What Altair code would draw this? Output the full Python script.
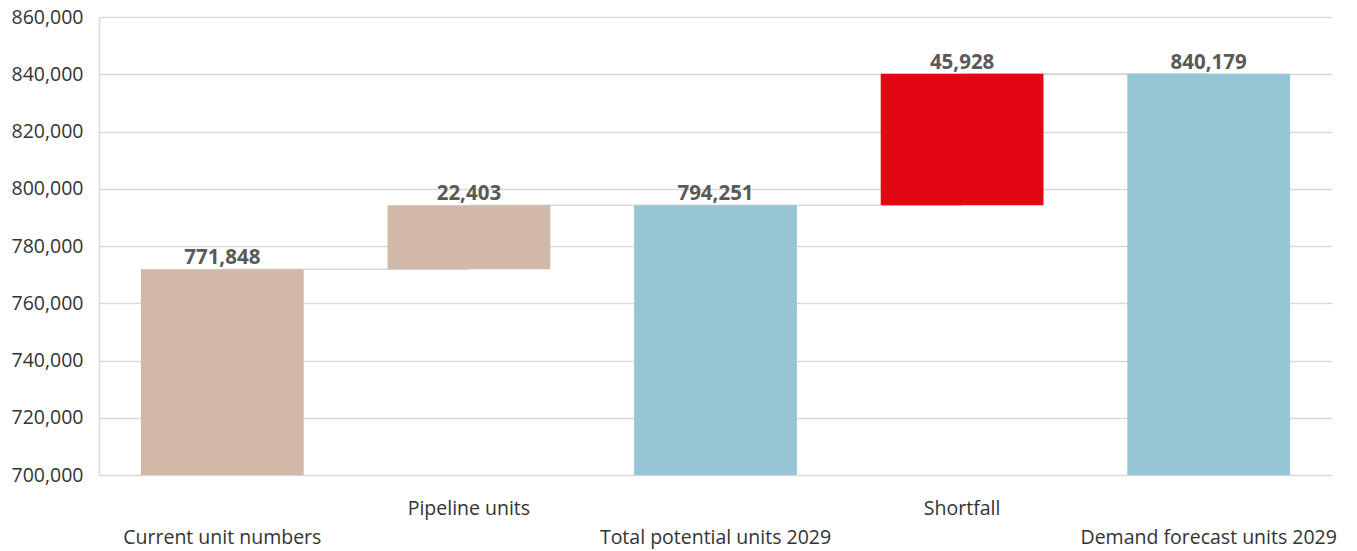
import altair as alt
import pandas as pd

categories = ["Current unit numbers", "Pipeline units", "Total potential units 2029",
              "Shortfall", "Demand forecast units 2029"]
values = [771848, 22403, 794251, 45928, 840179]
kinds = ["total", "delta", "total", "delta", "total"]
kind_colors = ["#d2b8a8", "#d2b8a8", "#96c5d5", "#e30613", "#96c5d5"]
y_ticks = [700000, 720000, 740000, 760000, 780000, 800000, 820000, 840000, 860000]

starts, ends = [], []
running = 0
for v, k in zip(values, kinds):
    if k == "total":
        starts.append(0)
        ends.append(v)
        running = v
    else:
        starts.append(running)
        running += v
        ends.append(running)

df = pd.DataFrame({
    "cat": categories,
    "start": starts,
    "end": ends,
    "value": values,
    "label": [f"{v:,}" for v in values],
    "color": kind_colors,
})

conn = pd.DataFrame({
    "cat": categories[:-1],
    "cat2": categories[1:],
    "level": ends[:-1],
})

lower = categories[0::2]
label_expr = ("indexof(" + str(lower) + ", datum.label) >= 0 ? ['', datum.label] : datum.label")

FONT = "Open Sans"

xscale = alt.Scale(domain=categories, paddingInner=0.34, paddingOuter=0.17)
yscale = alt.Scale(domain=[700000, 860000], zero=False)

x_axis = alt.Axis(labelAngle=0, labelExpr=label_expr, labelLineHeight=29,
                  labelPadding=24, ticks=False, domain=False, labelFontSize=19.5,
                  labelColor="#333333", labelFont=FONT, labelBaseline="top",
                  labelAlign="center", labelLimit=500, labelOverlap=False, grid=False)
y_axis = alt.Axis(values=y_ticks, labelExpr="format(datum.value, ',')",
                  ticks=False, labelPadding=16, labelFontSize=19.5,
                  labelColor="#333333", labelFont=FONT,
                  gridColor="#d9d9d9", gridWidth=1.5,
                  domainColor="#d9d9d9", domainWidth=1.5)

connectors = alt.Chart(conn).mark_rule(color="#d9d9d9", strokeWidth=1.5).encode(
    x=alt.X("cat:N", scale=xscale, sort=categories, title=None, axis=x_axis),
    x2="cat2:N",
    y=alt.Y("level:Q", scale=yscale, title=None, axis=y_axis),
)

bars = alt.Chart(df).mark_bar(clip=True).encode(
    x=alt.X("cat:N", scale=xscale, sort=categories, title=None, axis=x_axis),
    y=alt.Y("end:Q", scale=yscale, title=None, axis=y_axis),
    y2="start:Q",
    color=alt.Color("color:N", scale=None),
)

texts = alt.Chart(df).mark_text(fontWeight="bold", fontSize=20.5, color="#595959",
                                baseline="bottom", dy=-1, font=FONT).encode(
    x=alt.X("cat:N", scale=xscale, sort=categories, title=None, axis=x_axis),
    y=alt.Y("end:Q", scale=yscale, title=None, axis=y_axis),
    text="label:N",
)

chart = alt.layer(connectors, bars, texts).properties(
    width=1233, height=458,
    background="white",
    autosize=alt.AutoSizeParams(type="none"),
    padding={"left": 99, "top": 17, "right": 25, "bottom": 76},
).configure_view(stroke=None)

chart.save("out.html", embed_options={"renderer": "svg", "actions": False})
